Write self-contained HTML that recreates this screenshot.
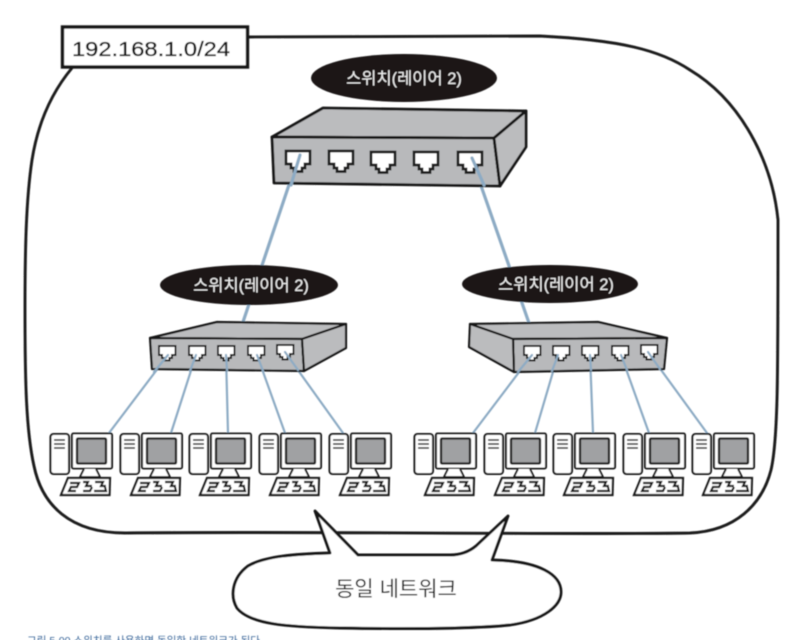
<!DOCTYPE html>
<html><head><meta charset="utf-8"><style>
html,body{margin:0;padding:0;background:#fff;width:787px;height:640px;overflow:hidden}
svg{display:block}
text{font-family:"Liberation Sans","Noto Sans CJK KR",sans-serif}
</style></head><body>
<svg width="787" height="640" viewBox="0 0 787 640" xmlns="http://www.w3.org/2000/svg">
<defs>
<filter id="b" x="-2%" y="-2%" width="104%" height="104%"><feGaussianBlur stdDeviation="0.5"/></filter>
<g id="pc">
 <rect x="0.500" y="1" width="18.500" height="40" rx="3" fill="#fff" stroke="#1c1c1c" stroke-width="2.100"/>
 <path d="M4 7h11M4 11h11M4 15h11" stroke="#1c1c1c" stroke-width="1.600"/>
 <rect x="22" y="0.500" width="40" height="35" rx="1.500" fill="#fff" stroke="#1c1c1c" stroke-width="2.100"/>
 <rect x="27" y="5.500" width="29" height="25" rx="1" fill="#a0a1a3" stroke="#1c1c1c" stroke-width="2.300"/>
 <path d="M34 36 L30 44 H50 L46 36" fill="#fff" stroke="#1c1c1c" stroke-width="1.900"/>
 <path d="M18 45 H60 L59.500 62 H11 Z" fill="#fff" stroke="#1c1c1c" stroke-width="2.200"/>
 <path d="M20 50h9l-2 4h-6l-2 4h7M33 49h5l-2 4h6M33 58h7l2-4M45 49h8l-2 4h5M44 58h12l-1-4" fill="none" stroke="#1c1c1c" stroke-width="2.200"/>
</g>
<g id="port">
 <path d="M-8 -7 H8.500 V2 H5 V5 H2.500 V7.500 H-2.500 V5 H-5 V2 H-8 Z" fill="#fff" stroke="#1c1c1c" stroke-width="1.900"/>
</g>
<g id="portL">
 <path d="M-12 -10 H12 V3 H7 V7 H4 V10.500 H-4 V7 H-7 V3 H-12 Z" fill="#fff" stroke="#1c1c1c" stroke-width="2.700"/>
</g>
</defs>
<g filter="url(#b)">
 <!-- outer boundary -->
 <path d="M72 68 C52 92 38 122 32 160 C26 200 25 250 25 310 C25 380 26 430 34 466 C42 505 70 533 125 533 C300 531 560 535 690 533 C735 531 762 505 771 470 C778 440 778 380 778 220 C772 160 740 100 690 70 C660 50 620 40 540 36 L248 37" fill="none" stroke="#1a1a1a" stroke-width="2.900"/>
 <!-- address box -->
 <rect x="62.500" y="27" width="185" height="40" fill="#fff" stroke="#141414" stroke-width="3.400"/>
 <text x="72" y="56" font-size="20" fill="#141414" stroke="#141414" stroke-width="0.300" textLength="158" lengthAdjust="spacingAndGlyphs">192.168.1.0/24</text>

 <!-- top links -->
 <g stroke="#8dabc4" fill="none" stroke-linecap="round">
  <path d="M298 158 L243 322 M472 160 L529 323" stroke-width="3.200"/>
 </g>

 <!-- top switch -->
 <path d="M272 137 L323 108 L526 111 L494 138 Z" fill="#bbbcbe" stroke="#141414" stroke-width="2.800" stroke-linejoin="round"/>
 <path d="M272 137 L494 138 L500 186 L274 183 Z" fill="#b8b9bb" stroke="#141414" stroke-width="2.800" stroke-linejoin="round"/>
 <path d="M494 138 L526 111 L526 147 L500 186 Z" fill="#bbbcbe" stroke="#141414" stroke-width="2.800" stroke-linejoin="round"/>
 <use href="#portL" x="298" y="161"/><use href="#portL" x="341" y="161"/><use href="#portL" x="383" y="162"/><use href="#portL" x="426" y="162"/><use href="#portL" x="470" y="162"/>
 <path d="M300 155 L291 185 M472 158 L484 185" stroke="#8dabc4" stroke-width="3.200" fill="none" stroke-linecap="round"/>
 <ellipse cx="404" cy="78" rx="93" ry="24" fill="#1a1818"/>
 <text x="404" y="84" font-size="16.500" fill="#f2f2f2" text-anchor="middle">스위치(레이어 2)</text>

 <!-- lower links -->
 <g stroke="#8dabc4" stroke-width="2.200" fill="none" stroke-linecap="round">
  <path d="M168 355 L109 433 M196 355 L171 433 M226 355 L228 433 M257 355 L285 433 M285 352 L343 433"/>
  <path d="M532 355 L473 433 M558 355 L535 433 M590 355 L593 433 M621 355 L649 433 M648 352 L707 433"/>
 </g>

 <!-- left switch -->
 <path d="M150 338 L217 322 L346 324 L302 339 Z" fill="#bbbcbe" stroke="#141414" stroke-width="2.200" stroke-linejoin="round"/>
 <path d="M150 338 L302 339 L304 371 L152 369 Z" fill="#b8b9bb" stroke="#141414" stroke-width="2.200" stroke-linejoin="round"/>
 <path d="M302 339 L346 324 L346 348 L304 371 Z" fill="#bbbcbe" stroke="#141414" stroke-width="2.200" stroke-linejoin="round"/>
 <use href="#port" x="167" y="353"/><use href="#port" x="197" y="353"/><use href="#port" x="226" y="353"/><use href="#port" x="256" y="353"/><use href="#port" x="285" y="352"/>
 <path d="M168 355 L154 372 M196 355 L190 371 M226 355 L227 370 M257 355 L263 371 M285 352 L298 370" stroke="#8dabc4" stroke-width="2.200" fill="none" stroke-linecap="round"/>

 <!-- right switch -->
 <path d="M470 324 L598 322 L667 338 L513 339 Z" fill="#bbbcbe" stroke="#141414" stroke-width="2.200" stroke-linejoin="round"/>
 <path d="M513 339 L667 338 L664 369 L514 372 Z" fill="#b8b9bb" stroke="#141414" stroke-width="2.200" stroke-linejoin="round"/>
 <path d="M470 324 L513 339 L514 372 L469 347 Z" fill="#bbbcbe" stroke="#141414" stroke-width="2.200" stroke-linejoin="round"/>
 <use href="#port" x="532" y="353"/><use href="#port" x="561" y="353"/><use href="#port" x="590" y="353"/><use href="#port" x="620" y="353"/><use href="#port" x="649" y="352"/>
 <path d="M532 355 L518 372 M558 355 L552 371 M590 355 L591 370 M621 355 L627 370 M648 352 L660 369" stroke="#8dabc4" stroke-width="2.200" fill="none" stroke-linecap="round"/>

 <!-- mid labels -->
 <ellipse cx="249" cy="285" rx="89" ry="20" fill="#1a1818"/>
 <text x="251" y="291" font-size="16.500" fill="#f2f2f2" text-anchor="middle">스위치(레이어 2)</text>
 <ellipse cx="550" cy="284" rx="88" ry="19" fill="#1a1818"/>
 <text x="556" y="290" font-size="16.500" fill="#f2f2f2" text-anchor="middle">스위치(레이어 2)</text>

 <!-- computers -->
 <use href="#pc" x="50" y="433"/><use href="#pc" x="120" y="433"/><use href="#pc" x="189" y="433"/><use href="#pc" x="259" y="433"/><use href="#pc" x="329" y="433"/>
 <use href="#pc" x="414" y="433"/><use href="#pc" x="484" y="433"/><use href="#pc" x="553" y="433"/><use href="#pc" x="623" y="433"/><use href="#pc" x="692" y="433"/>

 <!-- speech bubble -->
 <path d="M315 511 L330 553 C295 554 265 556 248 566 C232 578 230 596 237 608 C250 624 285 627 340 628 C400 629 470 629 510 625 C545 620 561 605 561 592 C561 575 540 561 492 560 L508 516 L476 546 C470 551 462 555 450 555 L358 555 Z" fill="#fff" stroke="#161616" stroke-width="2.900" stroke-linejoin="round"/>
 <text x="396" y="596" font-size="21" fill="#1e1e1e" text-anchor="middle">동일 네트워크</text>

 <text x="27" y="644" font-size="10.500" fill="#3f6a9c" textLength="233" lengthAdjust="spacingAndGlyphs">그림 5-00 스위치를 사용하면 동일한 네트워크가 된다</text>
</g>
</svg>
</body></html>
